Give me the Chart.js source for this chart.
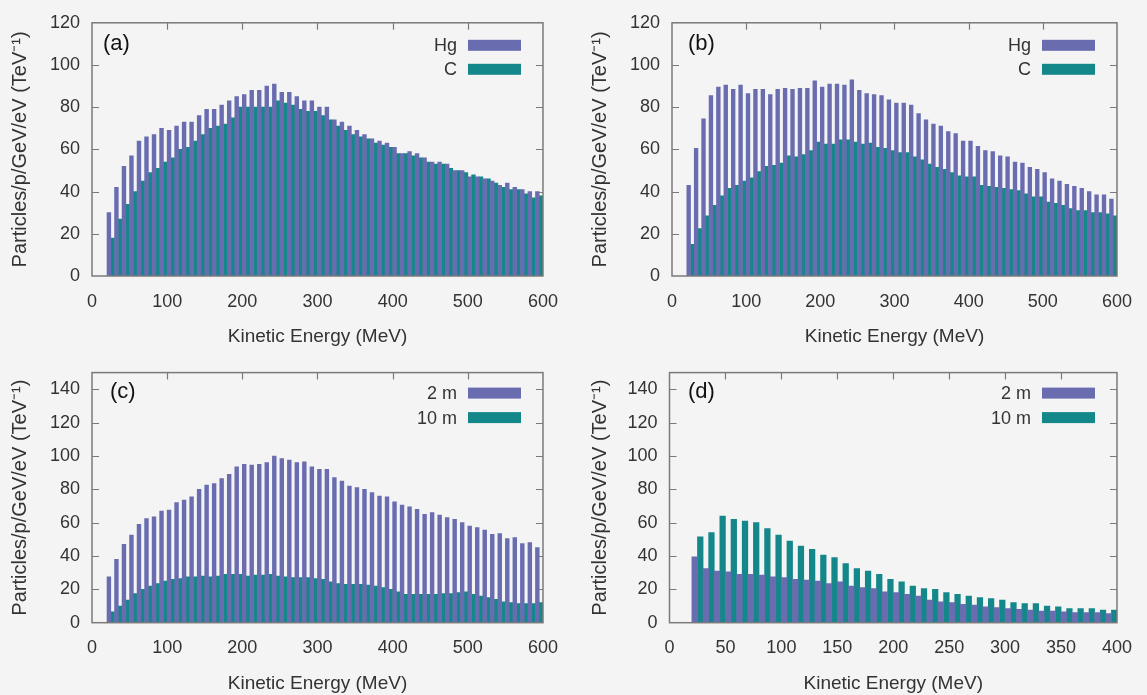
<!DOCTYPE html>
<html>
<head>
<meta charset="utf-8">
<title>Kinetic energy spectra</title>
<script src="https://cdn.jsdelivr.net/npm/chart.js@4.4.1/dist/chart.umd.min.js"></script>
<style>
    html, body { margin: 0; padding: 0; background: #f4f4f4; }
    #wrap { position: relative; width: 1147px; height: 695px; overflow: hidden; }
    .panel { position: absolute; }
</style>
</head>
<body>
<div id="wrap">
    <div class="panel" style="left:0;top:0;width:573px;height:348px"><canvas id="chartA"></canvas></div>
    <div class="panel" style="left:580px;top:0;width:567px;height:348px"><canvas id="chartB"></canvas></div>
    <div class="panel" style="left:0;top:348px;width:573px;height:347px"><canvas id="chartC"></canvas></div>
    <div class="panel" style="left:580px;top:348px;width:567px;height:347px"><canvas id="chartD"></canvas></div>
</div>
<script>
// bin centres (10 MeV bins)
var energy600 = [25, 35, 45, 55, 65, 75, 85, 95, 105, 115, 125, 135, 145, 155, 165, 175, 185, 195,
    205, 215, 225, 235, 245, 255, 265, 275, 285, 295, 305, 315, 325, 335, 345, 355, 365, 375, 385, 395,
    405, 415, 425, 435, 445, 455, 465, 475, 485, 495, 505, 515, 525, 535, 545, 555, 565, 575, 585, 595];
var energy400 = [25, 35, 45, 55, 65, 75, 85, 95, 105, 115, 125, 135, 145, 155, 165, 175, 185, 195,
    205, 215, 225, 235, 245, 255, 265, 275, 285, 295, 305, 315, 325, 335, 345, 355, 365, 375, 385, 395];

// (a)
var hgA = [30, 42, 52, 57, 64, 66, 67, 70, 69, 71, 73, 73, 76, 79, 79, 81, 83, 85, 86, 88, 88, 90, 91,
    87, 87, 85, 83, 83, 80, 80, 74, 73, 71, 69, 67, 65, 64, 63, 61, 58, 59, 58, 56, 54, 54, 53, 50, 50,
    47, 47, 46, 45, 43, 44, 42, 41, 40, 40];
var cA = [18, 27, 34, 40, 45, 49, 51, 54, 56, 60, 61, 64, 67, 70, 71, 72, 75, 80, 80, 80, 80, 80, 83,
    82, 81, 79, 78, 78, 76, 74, 71, 69, 67, 66, 65, 63, 62, 61, 58, 58, 57, 56, 54, 53, 53, 51, 50, 49,
    48, 47, 46, 44, 42, 41, 41, 39, 37, 38];
// (b)
var hgB = [43, 60.5, 74.5, 85.5, 89.5, 90.5, 88.5, 90.5, 86.5, 88.5, 88.5, 86, 88.5, 89, 88.5, 89, 89,
    92.5, 89.5, 91, 91, 90.5, 93, 88, 86.5, 86, 85.5, 83.5, 82, 82, 81, 77, 74, 72, 71, 68.5, 67.5, 64,
    64, 61.5, 59.5, 59, 57, 56.5, 54, 53.5, 51.5, 50.5, 49, 46, 45, 43.5, 42.5, 41.5, 40, 38.5, 38.5, 36.5];
var cB = [15, 22.5, 28.5, 33.5, 38, 41.5, 43, 45, 46.5, 49.5, 52, 52.5, 53.5, 57, 56.5, 57.5, 59.5,
    63.5, 62.5, 62.5, 64.5, 64.5, 63.5, 62.5, 63, 61, 60.5, 59.5, 58.5, 58.5, 56.5, 55, 53, 51.5, 50.5,
    49, 47.5, 47, 47, 43, 42.5, 42, 41.5, 41, 40.5, 39, 37.5, 37.5, 35, 34.5, 33.5, 32, 31, 31, 30, 30,
    29.5, 28.5];
// (c)
var m2C = [27.5, 38, 47, 52.5, 59, 62.5, 63.5, 67, 67.5, 72, 73.5, 75.5, 80, 82.5, 83.5, 86.5, 89,
    93.5, 95, 94.5, 95, 96, 100, 98.5, 97.5, 96, 96.5, 93.5, 92, 92, 87, 85, 82, 81, 80, 78, 76, 75.5,
    72.5, 70.5, 69.5, 68, 65, 66, 64.5, 63, 62, 60, 58, 57, 55.5, 53, 53.5, 50.5, 51, 47.5, 48, 45];
var m10C = [6.5, 10, 13.5, 17.5, 20, 22, 23.5, 25, 26, 26.5, 27.5, 27.5, 28, 27.5, 28, 29, 29, 29, 28,
    28.5, 28.5, 29, 28, 27.5, 27, 27, 27, 26.5, 26, 24.5, 23.5, 23, 23, 23, 22.5, 22, 21, 20, 18.5, 17,
    17, 17, 17, 17, 17.5, 17.5, 18, 18.5, 17, 16, 15, 14, 12.5, 12, 11.5, 11.5, 11.5, 12];
// (d)
var m2D = [39.5, 32.5, 31, 30.5, 29, 29, 28.5, 27.5, 27, 26, 25.5, 25, 23.5, 24.5, 22, 21, 20.5, 18.5,
    18, 17, 16, 13.5, 12.5, 12, 11, 10.5, 9.5, 9, 8.5, 8, 7.5, 7, 7, 6.5, 6, 6, 6, 5.5];
var m10D = [51.5, 54, 64, 62, 61, 60, 56.5, 52.5, 49, 46, 44, 40.5, 39, 35.5, 32.5, 31, 29, 26, 24.5,
    22, 20.5, 20, 18, 17, 16, 15, 14.5, 13.5, 12, 11.5, 11.5, 10, 9.5, 8.5, 8.5, 8.5, 7.5, 7.5];

var xTicks600 = [0, 100, 200, 300, 400, 500, 600];
var xTicks400 = [0, 50, 100, 150, 200, 250, 300, 350, 400];
var yTicks120 = [0, 20, 40, 60, 80, 100, 120];
var yTicks140 = [0, 20, 40, 60, 80, 100, 120, 140];

var PURPLE = '#696db0';
var TEAL = '#14878a';
var INK = '#333333';
var FRAME = '#7a7a7a';
var FONT = '"Liberation Sans", Arial, sans-serif';

// frame with inward ticks, panel tag and key drawn inside the plot box
var framePlugin = {
    id: 'frameBox',
    beforeDatasetsDraw: function (chart) {
        var ctx = chart.ctx, a = chart.chartArea;
        var sx = chart.scales.x, sy = chart.scales.y;
        ctx.save();
        ctx.strokeStyle = FRAME;
        ctx.lineWidth = 1.2;
        ctx.beginPath();
        sx.ticks.forEach(function (t) {
            if (t.value <= sx.min || t.value >= sx.max) return;
            var px = Math.round(sx.getPixelForValue(t.value)) + 0.5;
            ctx.moveTo(px, a.top); ctx.lineTo(px, a.top + 7);
            ctx.moveTo(px, a.bottom); ctx.lineTo(px, a.bottom - 7);
        });
        sy.ticks.forEach(function (t) {
            if (t.value <= sy.min || t.value >= sy.max) return;
            var py = Math.round(sy.getPixelForValue(t.value)) + 0.5;
            ctx.moveTo(a.left, py); ctx.lineTo(a.left + 7, py);
            ctx.moveTo(a.right, py); ctx.lineTo(a.right - 7, py);
        });
        ctx.stroke();
        ctx.restore();
    },
    afterDatasetsDraw: function (chart, args, opts) {
        var ctx = chart.ctx, a = chart.chartArea;
        ctx.save();
        ctx.strokeStyle = FRAME;
        ctx.lineWidth = 1.5;
        ctx.strokeRect(a.left, a.top, a.right - a.left, a.bottom - a.top);

        ctx.fillStyle = '#111';
        ctx.font = '22px ' + FONT;
        ctx.textAlign = 'left';
        ctx.textBaseline = 'middle';
        ctx.fillText(opts.tag, a.left + opts.tagX, a.top + opts.tagY);

        // key
        ctx.font = '18px ' + FONT;
        ctx.textAlign = 'right';
        chart.data.datasets.forEach(function (ds, i) {
            var cy = a.top + opts.keyRows[i];
            ctx.fillStyle = INK;
            ctx.fillText(ds.label, a.right - 86, cy + 1);
            ctx.fillStyle = ds.backgroundColor;
            ctx.fillRect(a.right - 75, cy - 5.5, 53, 11);
        });
        ctx.restore();
    }
};

function makePanel(id, cfg) {
    var ctx = document.getElementById(id).getContext('2d');
    var toPoints = function (xs, ys) {
        return xs.map(function (x, i) { return { x: x, y: ys[i] }; });
    };
    return new Chart(ctx, {
        type: 'bar',
        data: {
            datasets: [{
                label: cfg.names[0],
                data: toPoints(cfg.energy, cfg.first),
                backgroundColor: PURPLE
            }, {
                label: cfg.names[1],
                data: toPoints(cfg.energy, cfg.second),
                backgroundColor: TEAL
            }]
        },
        options: {
            responsive: true,
            maintainAspectRatio: false,
            animation: false,
            events: [],
            layout: { padding: cfg.padding },
            datasets: {
                bar: { categoryPercentage: 1, barPercentage: 1, borderWidth: 0, grouped: true }
            },
            plugins: {
                legend: { display: false },
                tooltip: { enabled: false },
                frameBox: { tag: cfg.tag, tagX: cfg.tagX, tagY: cfg.tagY, keyRows: cfg.keyRows }
            },
            scales: {
                x: {
                    type: 'linear',
                    min: 0,
                    max: cfg.xMax,
                    offset: false,
                    grid: { display: false, drawTicks: false },
                    border: { display: false },
                    afterBuildTicks: function (s) {
                        s.ticks = cfg.xTicks.map(function (v) { return { value: v }; });
                    },
                    ticks: {
                        padding: 15, autoSkip: false, maxRotation: 0, color: INK,
                        font: { family: FONT, size: 18 }
                    },
                    title: {
                        display: true, text: 'Kinetic Energy (MeV)', color: INK, padding: 0,
                        font: { family: FONT, size: 19 }
                    },
                    afterFit: function (s) { s.height = cfg.xHeight; }
                },
                y: {
                    min: 0,
                    max: cfg.yMax,
                    grid: { display: false, drawTicks: false },
                    border: { display: false },
                    afterBuildTicks: function (s) {
                        s.ticks = cfg.yTicks.map(function (v) { return { value: v }; });
                    },
                    ticks: {
                        padding: 12, color: INK,
                        font: { family: FONT, size: 18 }
                    },
                    title: {
                        display: true, text: 'Particles/p/GeV/eV (TeV\u207B\u00B9)', color: INK,
                        padding: { top: 8, bottom: 0 },
                        font: { family: FONT, size: 20 }
                    },
                    afterFit: function (s) { s.width = cfg.yWidth; }
                }
            }
        },
        plugins: [framePlugin]
    });
}

makePanel('chartA', {
    energy: energy600, first: hgA, second: cA, names: ['Hg', 'C'], tag: '(a)',
    xMax: 600, xTicks: xTicks600, yMax: 120, yTicks: yTicks120,
    padding: { top: 22, right: 26, left: 0, bottom: 0 }, xHeight: 72, yWidth: 92,
    tagX: 11, tagY: 21, keyRows: [22.5, 46.5]
});
makePanel('chartB', {
    energy: energy600, first: hgB, second: cB, names: ['Hg', 'C'], tag: '(b)',
    xMax: 600, xTicks: xTicks600, yMax: 120, yTicks: yTicks120,
    padding: { top: 22, right: 20, left: 0, bottom: 0 }, xHeight: 72, yWidth: 92,
    tagX: 16, tagY: 21, keyRows: [22.5, 46.5]
});
makePanel('chartC', {
    energy: energy600, first: m2C, second: m10C, names: ['2 m', '10 m'], tag: '(c)',
    xMax: 600, xTicks: xTicks600, yMax: 150, yTicks: yTicks140,
    padding: { top: 24.6, right: 26, left: 0, bottom: 0 }, xHeight: 72.3, yWidth: 92,
    tagX: 18, tagY: 19, keyRows: [20.5, 45]
});
makePanel('chartD', {
    energy: energy400, first: m2D, second: m10D, names: ['2 m', '10 m'], tag: '(d)',
    xMax: 400, xTicks: xTicks400, yMax: 150, yTicks: yTicks140,
    padding: { top: 24.6, right: 19, left: 0, bottom: 0 }, xHeight: 72.3, yWidth: 89.5,
    tagX: 18.5, tagY: 19, keyRows: [20.5, 45]
});
</script>
</body>
</html>
